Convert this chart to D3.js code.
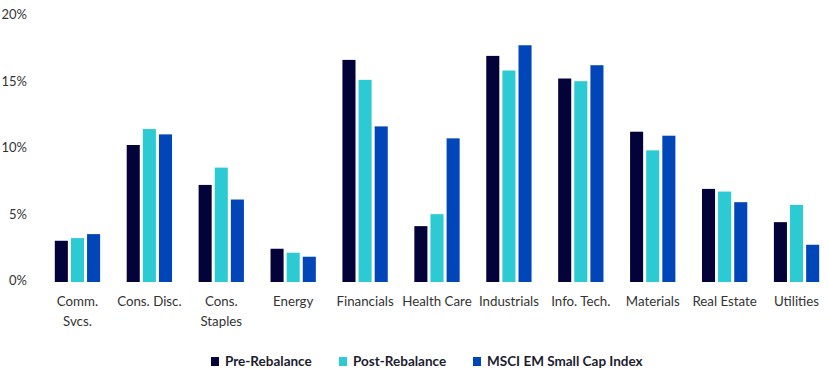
<!DOCTYPE html>
<html>
<head>
<meta charset="utf-8">
<script src="https://cdn.jsdelivr.net/npm/d3@7"></script>
<style>
body { margin: 0; background: #fff; }
svg text { font-family: Lato, "Open Sans", sans-serif; }
</style>
</head>
<body>
<div id="chart"></div>
<script>
var sectors = ["Comm.\nSvcs.", "Cons. Disc.", "Cons.\nStaples", "Energy", "Financials", "Health Care",
  "Industrials", "Info. Tech.", "Materials", "Real Estate", "Utilities"];
var seriesNames = ["Pre-Rebalance", "Post-Rebalance", "MSCI EM Small Cap Index"];
var preRebalance  = [3.1, 10.3, 7.3, 2.5, 16.7, 4.2, 17.0, 15.3, 11.3, 7.0, 4.5];
var postRebalance = [3.3, 11.5, 8.6, 2.2, 15.2, 5.1, 15.9, 15.1, 9.9, 6.8, 5.8];
var msciIndex     = [3.6, 11.1, 6.2, 1.9, 11.7, 10.8, 17.8, 16.3, 11.0, 6.0, 2.8];
var yTicks = [0, 5, 10, 15, 20];
var colors = ["#03033a", "#2ccbd3", "#0046b9"];

var W = 828, H = 379;
var svg = d3.select("#chart").append("svg")
    .attr("width", W)
    .attr("height", H);

var allSeries = [preRebalance, postRebalance, msciIndex];
var data = sectors.map(function(s, i) {
  return { sector: s, values: allSeries.map(function(arr) { return arr[i]; }) };
});

var x0 = d3.scaleBand()
    .domain(sectors)
    .range([41.5, 832.5])
    .paddingInner(0.37)
    .paddingOuter(0.185);

var x1 = d3.scaleBand()
    .domain([0, 1, 2])
    .range([0, x0.bandwidth()])
    .paddingInner(0.19);

var y = d3.scaleLinear()
    .domain([0, 20])
    .range([282, 16]);

// y axis labels
var yAxis = svg.append("g")
    .attr("transform", "translate(27,0)")
    .call(d3.axisLeft(y).tickValues(yTicks).tickSize(0).tickPadding(0).tickFormat(function(d) { return d + "%"; }));
yAxis.select(".domain").remove();
yAxis.selectAll("text")
    .attr("dy", "0.2em")
    .style("font-size", "13px")
    .style("fill", "#333")
    .style("font-family", "Lato, sans-serif");

// bars
var groups = svg.selectAll(".grp")
    .data(data)
    .enter().append("g")
    .attr("class", "grp")
    .attr("transform", function(d) { return "translate(" + x0(d.sector) + ",0)"; });

groups.selectAll("rect")
    .data(function(d) { return d.values; })
    .enter().append("rect")
    .attr("x", function(d, i) { return x1(i); })
    .attr("width", x1.bandwidth())
    .attr("y", function(d) { return y(d); })
    .attr("height", function(d) { return y(0) - y(d); })
    .attr("fill", function(d, i) { return colors[i]; });

// x labels
var xAxis = svg.append("g")
    .attr("transform", "translate(0,282)");
xAxis.selectAll("text")
    .data(sectors)
    .enter().append("text")
    .attr("text-anchor", "middle")
    .attr("x", function(d) { return x0(d) + x0.bandwidth() / 2; })
    .attr("y", 24)
    .style("font-size", "13.3px")
    .style("fill", "#333")
    .each(function(d) {
      var t = d3.select(this);
      d.split("\n").forEach(function(line, k) {
        t.append("tspan")
          .attr("x", x0(d) + x0.bandwidth() / 2)
          .attr("dy", k === 0 ? 0 : 20)
          .text(line);
      });
    });

// legend
var legendX = [211, 339, 473];
var legend = svg.append("g");
var items = legend.selectAll("g")
    .data(seriesNames)
    .enter().append("g")
    .attr("transform", function(d, i) { return "translate(" + legendX[i] + ",357)"; });
items.append("rect")
    .attr("width", 8)
    .attr("height", 9)
    .attr("fill", function(d, i) { return colors[i]; });
items.append("text")
    .attr("x", 14)
    .attr("y", 9)
    .style("font-size", "13.5px")
    .style("font-weight", "bold")
    .style("fill", "#1c1c30")
    .text(function(d) { return d; });
</script>
</body>
</html>
